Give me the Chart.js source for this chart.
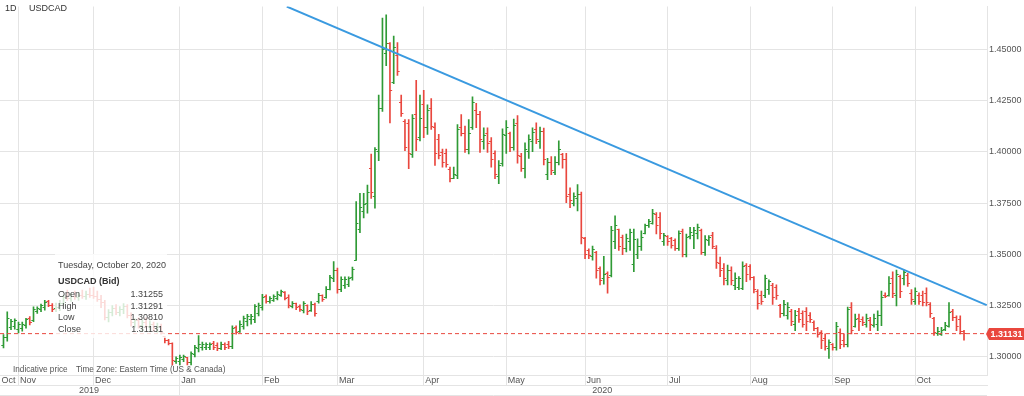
<!DOCTYPE html>
<html><head><meta charset="utf-8">
<script src="https://cdn.jsdelivr.net/npm/chart.js@4.4.1/dist/chart.umd.min.js"></script>
<style>
html,body{margin:0;padding:0;background:#fff;}
#wrap{position:relative;width:1024px;height:396px;overflow:hidden;font-family:"Liberation Sans",Arial,sans-serif;}
canvas{position:absolute;left:0;top:0;}
.t{position:absolute;font-size:9px;line-height:11px;white-space:nowrap;color:#444;}
.v{text-align:right;width:60px;}
.f{font-size:8.2px;}
#info{position:absolute;left:55px;top:254px;width:112px;height:84px;background:rgba(255,255,255,0.8);}
</style></head><body>
<div id="wrap">
<canvas id="c" width="1024" height="396"></canvas>
<div class="t" style="left:5px;top:3px;color:#333">1D</div>
<div class="t" style="left:29px;top:3px;color:#333">USDCAD</div>
<div id="info"></div>
<div class="t" id="dateTxt" style="left:58px;top:259.5px"></div>
<div class="t" id="symTxt" style="left:58px;top:276px;font-weight:bold;color:#333"></div>
<div class="t" style="left:58px;top:288.5px">Open</div>
<div class="t" style="left:58px;top:300.5px">High</div>
<div class="t" style="left:58px;top:312px">Low</div>
<div class="t" style="left:58px;top:323.8px">Close</div>
<div class="t v" id="vO" style="left:103px;top:288.5px"></div>
<div class="t v" id="vH" style="left:103px;top:300.5px"></div>
<div class="t v" id="vL" style="left:103px;top:312px"></div>
<div class="t v" id="vC" style="left:103px;top:323.8px"></div>
<div class="t f" style="left:13px;top:364px;color:#555">Indicative price</div>
<div class="t f" style="left:76px;top:364px;color:#555">Time Zone: Eastern Time (US &amp; Canada)</div>
</div>
<script>
// ---- data ----
const symbolName = 'USDCAD (Bid)';
const lastDateLabel = 'Tuesday, October 20, 2020';
const monthTickIdx = [-0.933, 4, 24, 47, 69, 89, 112, 134, 155, 177, 199, 221, 243];
const monthLabels = ['Oct','Nov','Dec','Jan','Feb','Mar','Apr','May','Jun','Jul','Aug','Sep','Oct'];
const yearTickIdx = [22.8, 47, 159.6];
const yearLabels = ['2019', '', '2020'];
const yTicks = [1.30, 1.325, 1.35, 1.375, 1.40, 1.425, 1.45];

const openP = [
1.3055,1.3092,1.3145,1.3150,1.3132,1.3140,1.3155,1.3185,1.3175,1.3220,
1.3230,1.3240,1.3268,1.3250,1.3235,1.3240,1.3260,1.3290,1.3285,1.3295,
1.3290,1.3300,1.3295,1.3305,1.3300,1.3295,1.3280,1.3265,1.3190,1.3215,
1.3235,1.3215,1.3230,1.3245,1.3200,1.3165,1.3175,1.3155,1.3165,1.3150,
1.3160,1.3140,1.3150,1.3098,1.3080,1.3065,1.2975,1.2978,1.2985,1.2995,
1.2972,1.3012,1.3040,1.3045,1.3045,1.3045,1.3065,1.3055,1.3042,1.3060,
1.3062,1.3048,1.3145,1.3125,1.3150,1.3170,1.3180,1.3180,1.3210,1.3240,
1.3292,1.3268,1.3275,1.3285,1.3300,1.3312,1.3290,1.3245,1.3258,1.3245,
1.3228,1.3250,1.3225,1.3255,1.3270,1.3298,1.3290,1.3330,1.3380,1.3420,
1.3330,1.3350,1.3355,1.3385,1.3470,1.3620,1.3710,1.3750,1.3920,1.3780,
1.4000,1.4210,1.4480,1.4530,1.4340,1.4470,1.4240,1.4150,1.4140,1.3985,
1.4180,1.4070,1.4230,1.4120,1.4210,1.4120,1.4060,1.3995,1.3990,1.3915,
1.3872,1.3885,1.4120,1.4090,1.4010,1.4120,1.4200,1.4180,1.4050,1.4090,
1.4050,1.3990,1.3880,1.3945,1.4080,1.4090,1.4020,1.4140,1.3975,1.3920,
1.4000,1.4050,1.4110,1.4050,1.4100,1.3890,1.3950,1.3900,1.3950,1.3985,
1.3960,1.3790,1.3750,1.3770,1.3790,1.3575,1.3520,1.3490,1.3510,1.3430,
1.3380,1.3405,1.3395,1.3560,1.3620,1.3580,1.3530,1.3560,1.3450,1.3500,
1.3540,1.3600,1.3640,1.3650,1.3695,1.3680,1.3560,1.3585,1.3575,1.3565,
1.3530,1.3610,1.3500,1.3585,1.3590,1.3600,1.3615,1.3510,1.3565,1.3590,
1.3530,1.3455,1.3430,1.3370,1.3420,1.3350,1.3340,1.3335,1.3445,1.3440,
1.3385,1.3320,1.3300,1.3300,1.3330,1.3350,1.3340,1.3250,1.3210,1.3200,
1.3220,1.3160,1.3220,1.3210,1.3220,1.3200,1.3165,1.3140,1.3120,1.3090,
1.3040,1.3060,1.3045,1.3120,1.3080,1.3060,1.3240,1.3150,1.3185,1.3180,
1.3160,1.3175,1.3155,1.3160,1.3200,1.3300,1.3300,1.3380,1.3300,1.3390,
1.3380,1.3395,1.3310,1.3270,1.3300,1.3300,1.3310,1.3255,1.3185,1.3115,
1.3110,1.3135,1.3150,1.3220,1.3190,1.3180,1.31255];

const highP = [
1.3108,1.3220,1.3183,1.3185,1.3170,1.3170,1.3188,1.3196,1.3244,1.3244,
1.3257,1.3276,1.3276,1.3260,1.3262,1.3275,1.3300,1.3325,1.3310,1.3320,
1.3315,1.3325,1.3320,1.3335,1.3340,1.3320,1.3300,1.3275,1.3230,1.3250,
1.3255,1.3245,1.3260,1.3255,1.3215,1.3185,1.3190,1.3180,1.3190,1.3175,
1.3170,1.3165,1.3160,1.3100,1.3085,1.3068,1.3000,1.3008,1.3008,1.2998,
1.3024,1.3056,1.3104,1.3072,1.3068,1.3068,1.3075,1.3068,1.3072,1.3068,
1.3075,1.3151,1.3151,1.3175,1.3199,1.3207,1.3207,1.3255,1.3262,1.3305,
1.3302,1.3294,1.3302,1.3318,1.3326,1.3318,1.3302,1.3270,1.3262,1.3254,
1.3270,1.3254,1.3270,1.3262,1.3310,1.3302,1.3342,1.3398,1.3465,1.3433,
1.3390,1.3390,1.3390,1.3438,1.3757,1.3797,1.3797,1.3837,1.3989,1.4021,
1.4276,1.4652,1.4668,1.4532,1.4564,1.4532,1.4276,1.4157,1.4157,1.4181,
1.4348,1.4276,1.4300,1.4229,1.4260,1.4141,1.4085,1.4013,1.4013,1.3925,
1.3925,1.4133,1.4181,1.4125,1.4157,1.4268,1.4236,1.4197,1.4117,1.4117,
1.4069,1.4005,1.3957,1.4112,1.4152,1.4096,1.4160,1.4176,1.3992,1.4043,
1.4083,1.4117,1.4141,1.4120,1.4115,1.3968,1.3976,1.3976,1.4053,1.3992,
1.3992,1.3824,1.3800,1.3840,1.3803,1.3583,1.3527,1.3540,1.3514,1.3439,
1.3490,1.3415,1.3636,1.3687,1.3623,1.3594,1.3599,1.3623,1.3623,1.3575,
1.3615,1.3647,1.3671,1.3719,1.3703,1.3703,1.3602,1.3591,1.3583,1.3575,
1.3615,1.3623,1.3599,1.3631,1.3631,1.3647,1.3623,1.3591,1.3591,1.3607,
1.3543,1.3487,1.3455,1.3447,1.3439,1.3410,1.3391,1.3463,1.3455,1.3450,
1.3391,1.3328,1.3320,1.3399,1.3375,1.3359,1.3351,1.3256,1.3275,1.3264,
1.3232,1.3227,1.3237,1.3224,1.3240,1.3216,1.3176,1.3144,1.3128,1.3112,
1.3083,1.3064,1.3168,1.3136,1.3112,1.3243,1.3264,1.3208,1.3208,1.3195,
1.3208,1.3192,1.3208,1.3224,1.3320,1.3312,1.3391,1.3415,1.3423,1.3399,
1.3423,1.3407,1.3328,1.3336,1.3312,1.3320,1.3336,1.3264,1.3192,1.3144,
1.3144,1.3168,1.3264,1.3232,1.3200,1.3200,1.31291];

const lowP = [
1.3044,1.3076,1.3132,1.3135,1.3116,1.3125,1.3140,1.3156,1.3172,1.3212,
1.3220,1.3228,1.3244,1.3220,1.3220,1.3225,1.3250,1.3275,1.3270,1.3280,
1.3275,1.3285,1.3280,1.3290,1.3285,1.3270,1.3240,1.3180,1.3170,1.3200,
1.3205,1.3200,1.3210,1.3190,1.3150,1.3145,1.3140,1.3125,1.3140,1.3130,
1.3125,1.3120,1.3110,1.3068,1.3058,1.2960,1.2968,1.2960,1.2976,1.2960,
1.2960,1.3000,1.3024,1.3032,1.3035,1.3035,1.3035,1.3030,1.3035,1.3035,
1.3040,1.3040,1.3111,1.3119,1.3135,1.3151,1.3159,1.3167,1.3200,1.3228,
1.3262,1.3262,1.3270,1.3278,1.3294,1.3278,1.3238,1.3238,1.3230,1.3222,
1.3214,1.3206,1.3222,1.3198,1.3262,1.3270,1.3286,1.3326,1.3366,1.3310,
1.3318,1.3334,1.3342,1.3374,1.3470,1.3606,1.3678,1.3701,1.3773,1.3725,
1.3957,1.4197,1.4420,1.4141,1.4332,1.4372,1.4173,1.4005,1.3917,1.3973,
1.4005,1.4053,1.4069,1.4085,1.4109,1.3933,1.3965,1.3925,1.3925,1.3853,
1.3869,1.3869,1.4077,1.3997,1.3989,1.4109,1.4117,1.3997,1.4013,1.3997,
1.3925,1.3869,1.3845,1.3930,1.3992,1.4000,1.4008,1.3944,1.3904,1.3872,
1.3968,1.4000,1.4040,1.4016,1.3936,1.3864,1.3888,1.3888,1.3936,1.3920,
1.3752,1.3727,1.3736,1.3711,1.3551,1.3479,1.3479,1.3471,1.3383,1.3351,
1.3354,1.3311,1.3390,1.3527,1.3519,1.3498,1.3511,1.3519,1.3415,1.3479,
1.3519,1.3599,1.3631,1.3647,1.3599,1.3575,1.3543,1.3543,1.3530,1.3519,
1.3519,1.3487,1.3487,1.3575,1.3527,1.3575,1.3500,1.3495,1.3543,1.3527,
1.3431,1.3391,1.3351,1.3351,1.3351,1.3327,1.3327,1.3327,1.3367,1.3375,
1.3312,1.3232,1.3256,1.3288,1.3304,1.3256,1.3280,1.3192,1.3200,1.3184,
1.3152,1.3128,1.3168,1.3144,1.3128,1.3168,1.3128,1.3096,1.3040,1.3032,
1.2992,1.3032,1.3032,1.3040,1.3048,1.3048,1.3112,1.3144,1.3128,1.3152,
1.3144,1.3128,1.3144,1.3128,1.3152,1.3288,1.3296,1.3288,1.3248,1.3288,
1.3351,1.3343,1.3256,1.3256,1.3256,1.3248,1.3248,1.3192,1.3104,1.3104,
1.3104,1.3128,1.3144,1.3176,1.3128,1.3112,1.30810];

const closeP = [
1.3095,1.3185,1.3172,1.3175,1.3160,1.3160,1.3180,1.3165,1.3230,1.3235,
1.3250,1.3265,1.3252,1.3230,1.3240,1.3260,1.3290,1.3285,1.3295,1.3290,
1.3300,1.3295,1.3305,1.3300,1.3295,1.3280,1.3265,1.3190,1.3215,1.3235,
1.3215,1.3230,1.3245,1.3200,1.3165,1.3175,1.3155,1.3165,1.3150,1.3160,
1.3140,1.3150,1.3120,1.3080,1.3065,1.2980,1.2990,1.2998,1.3000,1.2970,
1.3015,1.3045,1.3060,1.3062,1.3060,1.3062,1.3045,1.3040,1.3062,1.3045,
1.3048,1.3140,1.3120,1.3160,1.3185,1.3195,1.3198,1.3245,1.3250,1.3290,
1.3270,1.3285,1.3295,1.3305,1.3318,1.3285,1.3250,1.3262,1.3240,1.3230,
1.3258,1.3220,1.3255,1.3210,1.3300,1.3280,1.3330,1.3385,1.3420,1.3330,
1.3375,1.3378,1.3380,1.3425,1.3650,1.3730,1.3745,1.3800,1.3800,1.4010,
1.4210,1.4500,1.4530,1.4300,1.4510,1.4390,1.4185,1.4020,1.3990,1.4160,
1.4060,1.4160,1.4120,1.4200,1.4125,1.3990,1.3980,1.3950,1.3940,1.3870,
1.3890,1.4110,1.4090,1.4010,1.4090,1.4240,1.4180,1.4060,1.4080,1.4040,
1.3960,1.3890,1.3935,1.4085,1.4120,1.4020,1.4130,1.3980,1.3920,1.4010,
1.4060,1.4095,1.4060,1.4100,1.3960,1.3950,1.3910,1.3950,1.4010,1.3960,
1.3780,1.3760,1.3780,1.3790,1.3580,1.3500,1.3495,1.3525,1.3420,1.3370,
1.3400,1.3385,1.3615,1.3640,1.3540,1.3530,1.3575,1.3605,1.3570,1.3540,
1.3580,1.3640,1.3660,1.3700,1.3640,1.3600,1.3590,1.3560,1.3545,1.3530,
1.3600,1.3500,1.3580,1.3605,1.3615,1.3630,1.3510,1.3570,1.3580,1.3540,
1.3460,1.3420,1.3380,1.3420,1.3370,1.3380,1.3380,1.3440,1.3400,1.3385,
1.3330,1.3260,1.3270,1.3380,1.3365,1.3290,1.3300,1.3210,1.3255,1.3240,
1.3170,1.3200,1.3180,1.3160,1.3170,1.3180,1.3140,1.3110,1.3080,1.3050,
1.3070,1.3045,1.3150,1.3060,1.3060,1.3230,1.3130,1.3180,1.3170,1.3165,
1.3185,1.3160,1.3185,1.3200,1.3290,1.3295,1.3360,1.3310,1.3400,1.3320,
1.3410,1.3360,1.3280,1.3320,1.3270,1.3265,1.3265,1.3210,1.3120,1.3125,
1.3130,1.3155,1.3215,1.3190,1.3150,1.3125,1.31131];

const trendLine = [{x: 75.5, y: 1.4708}, {x: 262.05, y: 1.3252}];

// ---- styling ----
const UP = '#2f9a35', DOWN = '#e9473e', GRID = '#e4e4e4', TXT = '#555';
const FONT = '"Liberation Sans", Arial, sans-serif';
const X_MIN = -0.933, X_MAX = 262.13, Y_MIN = 1.291134, Y_MAX = 1.470846;
const last = closeP.length - 1;

document.getElementById('dateTxt').textContent = lastDateLabel;
document.getElementById('symTxt').textContent = symbolName;
document.getElementById('vO').textContent = openP[last].toFixed(5);
document.getElementById('vH').textContent = highP[last].toFixed(5);
document.getElementById('vL').textContent = lowP[last].toFixed(5);
document.getElementById('vC').textContent = closeP[last].toFixed(5);

const isUp = i => closeP[i] >= openP[i];
const barData = openP.map((o, i) => ({x: i, y: [lowP[i], highP[i]]}));

Chart.defaults.font.family = FONT;
Chart.defaults.font.size = 9;
Chart.defaults.color = TXT;

const decor = {
  id: 'decor',
  afterDatasetDraw(chart, args) {
    if (args.meta.type !== 'bar') return;
    const ctx = chart.ctx, xs = chart.scales.x, ys = chart.scales.y, a = chart.chartArea;
    ctx.save();
    ctx.beginPath(); ctx.rect(a.left, a.top, a.right - a.left, a.bottom - a.top); ctx.clip();
    ctx.lineWidth = 1;
    for (let i = 0; i < openP.length; i++) {
      const x = xs.getPixelForValue(i);
      const yo = Math.round(ys.getPixelForValue(openP[i]) - 0.5) + 0.5;
      const yc = Math.round(ys.getPixelForValue(closeP[i]) - 0.5) + 0.5;
      ctx.strokeStyle = isUp(i) ? UP : DOWN;
      ctx.beginPath();
      ctx.moveTo(x - 2.2, yo); ctx.lineTo(x, yo);
      ctx.moveTo(x, yc); ctx.lineTo(x + 2.2, yc);
      ctx.stroke();
    }
    ctx.restore();
  },
  afterDraw(chart) {
    const ctx = chart.ctx, ys = chart.scales.y, a = chart.chartArea;
    ctx.save();
    ctx.strokeStyle = GRID; ctx.lineWidth = 1;
    ctx.beginPath(); ctx.moveTo(0, chart.height - 0.5); ctx.lineTo(a.right, chart.height - 0.5); ctx.stroke();
    const v = closeP[last];
    const py = Math.round(ys.getPixelForValue(v));
    const x0 = a.right + 2;
    ctx.fillStyle = DOWN;
    ctx.beginPath();
    ctx.moveTo(x0 - 3, py); ctx.lineTo(x0, py - 6); ctx.lineTo(chart.width, py - 6);
    ctx.lineTo(chart.width, py + 6); ctx.lineTo(x0, py + 6); ctx.closePath(); ctx.fill();
    ctx.fillStyle = '#fff';
    ctx.font = 'bold 9px ' + FONT;
    ctx.textBaseline = 'middle'; ctx.textAlign = 'left';
    ctx.fillText(v.toFixed(5), x0 + 1.5, py + 0.5);
    ctx.restore();
  }
};

new Chart(document.getElementById('c'), {
  type: 'bar',
  data: {
    datasets: [
      {
        type: 'bar', data: barData, order: 10,
        backgroundColor: c => isUp(c.dataIndex) ? UP : DOWN,
        borderWidth: 0, barThickness: 1, grouped: false
      },
      {
        type: 'line', data: [{x: X_MIN, y: closeP[last]}, {x: X_MAX, y: closeP[last]}], order: 2,
        borderColor: DOWN, borderWidth: 1, borderDash: [4, 3], pointRadius: 0, fill: false
      },
      {
        type: 'line', data: trendLine, order: 1,
        borderColor: '#3a9ae0', borderWidth: 2, pointRadius: 0, fill: false
      }
    ]
  },
  options: {
    responsive: false, animation: false, events: [],
    layout: {padding: {left: 0, right: 0, top: 0, bottom: 1}},
    plugins: {legend: {display: false}, tooltip: {enabled: false}, title: {display: false}},
    scales: {
      x: {
        type: 'linear', position: 'bottom', min: X_MIN, max: X_MAX, offset: false,
        afterBuildTicks: s => { s.ticks = monthTickIdx.map(v => ({value: v})); },
        afterFit: s => { s.height = 10; },
        grid: {
          offset: false, drawTicks: true, tickLength: 10,
          color: c => (c.index === 0 ? 'rgba(0,0,0,0)' : GRID),
          tickColor: c => (c.index === 0 ? 'rgba(0,0,0,0)' : GRID)
        },
        border: {display: true, color: GRID},
        ticks: {
          autoSkip: false, maxRotation: 0, minRotation: 0, align: 'start', labelOffset: 1.5,
          padding: -9, color: TXT, font: {size: 9, lineHeight: 1},
          callback: (v, i) => monthLabels[i]
        }
      },
      x2: {
        type: 'linear', axis: 'x', position: 'bottom', min: X_MIN, max: X_MAX, offset: false,
        afterBuildTicks: s => { s.ticks = yearTickIdx.map(v => ({value: v})); },
        afterFit: s => { s.height = 10; },
        grid: {
          offset: false, drawOnChartArea: false, drawTicks: true, tickLength: 10,
          tickColor: c => (yearLabels[c.index] === '' ? GRID : 'rgba(0,0,0,0)'),
          color: c => (yearLabels[c.index] === '' ? GRID : 'rgba(0,0,0,0)')
        },
        border: {display: true, color: GRID},
        ticks: {
          autoSkip: false, maxRotation: 0, minRotation: 0, align: 'center',
          padding: -9, color: TXT, font: {size: 9, lineHeight: 1},
          callback: (v, i) => yearLabels[i]
        }
      },
      y: {
        type: 'linear', position: 'right', min: Y_MIN, max: Y_MAX, beginAtZero: false,
        afterBuildTicks: s => { s.ticks = yTicks.map(v => ({value: v})); },
        afterFit: s => { s.width = 37; },
        grid: {color: GRID, drawTicks: false},
        border: {display: true, color: GRID},
        ticks: {padding: 2, color: TXT, font: {size: 9, lineHeight: 1}, callback: v => v.toFixed(5)}
      }
    }
  },
  plugins: [decor]
});
</script>
</body></html>
